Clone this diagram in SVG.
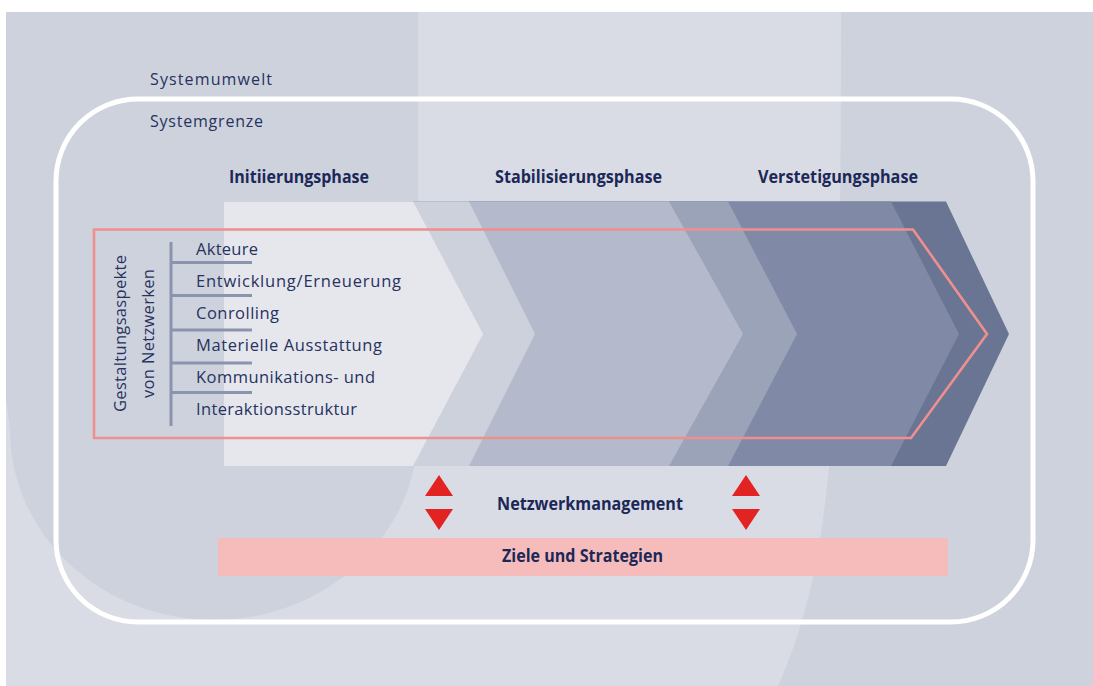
<svg xmlns="http://www.w3.org/2000/svg" width="1093" height="686" viewBox="0 0 1093 686">
<style>
.t{font-family:"Open Sans","Noto Sans",sans-serif;fill:#27325f}
.r{font-size:16.5px}
.b{font-size:17.5px;font-weight:bold;fill:#1c2857}
.tree{stroke:#8b93ad;stroke-width:3;fill:none}
.tri{fill:#e32222}
</style>
<rect x="0" y="0" width="1093" height="686" fill="#ffffff"/>
<g id="background">
<rect x="6" y="12" width="1087" height="674" fill="#d9dce5"/>
<path d="M6 12 H418 V430 A204 190 0 0 1 10 430 L6 400 Z" fill="#cdd2dd"/>
<path d="M841 12 H1093 V686 H778 C835 560 841 400 841 12 Z" fill="#cdd2dd"/>
</g>
<g id="systemgrenze">
<rect x="56" y="99" width="977" height="523" rx="82" ry="82" fill="none" stroke="#ffffff" stroke-width="5"/>
</g>
<g id="labels">
<text class="t r" x="150" y="84.5" textLength="122" lengthAdjust="spacing" style="font-size:16px">Systemumwelt</text>
<text class="t r" x="150" y="127" textLength="113" lengthAdjust="spacing" style="font-size:16px">Systemgrenze</text>
</g>
<g id="phases">
<polygon points="224,201.5 946,201.5 1009,334 946,466 224,466" fill="#6a7594"/>
<polygon points="224,201.5 891,201.5 959,334 891,466 224,466" fill="#808aa6"/>
<polygon points="224,201.5 728,201.5 797,334 728,466 224,466" fill="#9ba3b8"/>
<polygon points="224,201.5 669,201.5 743,334 669,466 224,466" fill="#b4bacb"/>
<polygon points="224,201.5 469,201.5 535,334 469,466 224,466" fill="#cdd1dc"/>
<polygon points="224,201.5 413,201.5 483,334 413,466 224,466" fill="#e6e7ed"/>
</g>
<g id="phase-titles">
<text class="t b" x="229" y="183" textLength="140" lengthAdjust="spacingAndGlyphs">Initiierungsphase</text>
<text class="t b" x="495" y="183" textLength="167" lengthAdjust="spacingAndGlyphs">Stabilisierungsphase</text>
<text class="t b" x="758" y="183" textLength="160" lengthAdjust="spacingAndGlyphs">Verstetigungsphase</text>
</g>
<g id="gestaltungsaspekte">
<polygon points="94,229.5 913,229.5 987,334 911,438 94,438" fill="none" stroke="#ef8f8f" stroke-width="2.6"/>
<text class="t r" transform="translate(126,333.5) rotate(-90)" x="0" y="0" text-anchor="middle" textLength="157" lengthAdjust="spacing">Gestaltungsaspekte</text>
<text class="t r" transform="translate(154,333.5) rotate(-90)" x="0" y="0" text-anchor="middle" textLength="129" lengthAdjust="spacing">von Netzwerken</text>
<path class="tree" d="M171 242 V426 M171 262.5 H252 M171 295.5 H252 M171 330 H252 M171 363 H252 M171 392.5 H252"/>
<text class="t r" x="196" y="255" textLength="62" lengthAdjust="spacing">Akteure</text>
<text class="t r" x="196" y="287.3" textLength="205" lengthAdjust="spacing">Entwicklung/Erneuerung</text>
<text class="t r" x="196" y="319.3" textLength="83" lengthAdjust="spacing">Conrolling</text>
<text class="t r" x="196" y="351.3" textLength="186" lengthAdjust="spacing">Materielle Ausstattung</text>
<text class="t r" x="196" y="383" textLength="179" lengthAdjust="spacing">Kommunikations- und</text>
<text class="t r" x="196" y="415" textLength="161" lengthAdjust="spacing">Interaktionsstruktur</text>
</g>
<g id="netzwerkmanagement">
<polygon class="tri" points="425,496 453,496 439,475"/>
<polygon class="tri" points="425,509 453,509 439,530"/>
<polygon class="tri" points="732,496 760,496 746,475"/>
<polygon class="tri" points="732,509 760,509 746,530"/>
<text class="t b" x="497" y="510" textLength="186" lengthAdjust="spacingAndGlyphs">Netzwerkmanagement</text>
</g>
<g id="ziele">
<rect x="218" y="538" width="730" height="38" fill="#f6bcbc"/>
<text class="t b" x="502" y="562" textLength="161" lengthAdjust="spacingAndGlyphs">Ziele und Strategien</text>
</g>
</svg>
